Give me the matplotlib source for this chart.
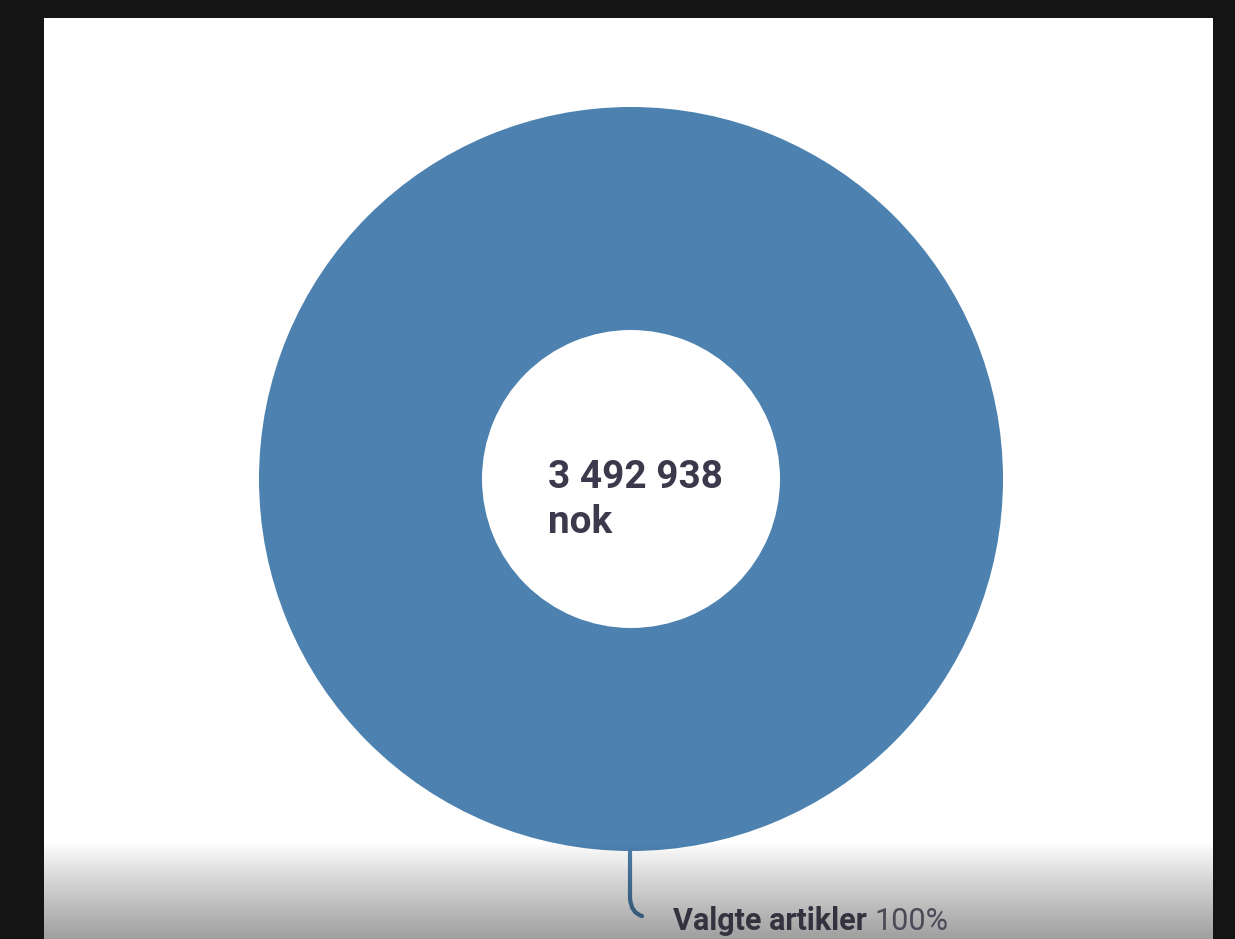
import matplotlib
matplotlib.use("Agg")
import matplotlib.pyplot as plt
import numpy as np
from matplotlib.path import Path
from matplotlib.patches import PathPatch, Rectangle

categories = ["Valgte artikler"]
values = [100]
total_label = ["3 492 938", "nok"]
pct_labels = ["100%"]

W, H = 1235, 939
fig = plt.figure(figsize=(W / 100, H / 100), dpi=100, facecolor="#141414")

# panel axes in pixel coordinates
x0, x1, y0, y1 = 44, 1213, 18, 939
ax = fig.add_axes([x0 / W, 0, (x1 - x0) / W, (y1 - y0) / H])

cx, cy, R, r = 631, 479, 372, 149
ax.pie(values, radius=R, center=(cx, cy), colors=["#4d82b0"], startangle=90,
       counterclock=False, wedgeprops=dict(width=R - r, linewidth=0))
ax.add_patch(Rectangle((x0, y0), x1 - x0, y1 - y0, facecolor="white",
                       edgecolor="none", zorder=0))
ax.set_xlim(x0, x1)
ax.set_ylim(y1, y0)
ax.set_aspect("auto")
ax.set_xticks([]); ax.set_yticks([])

# leader line
verts = [(630, 851), (630, 898), (631, 913), (642, 916)]
codes = [Path.MOVETO, Path.LINETO, Path.CURVE3, Path.CURVE3]
ax.add_patch(PathPatch(Path(verts, codes), fill=False, edgecolor="#4d7fab",
                       linewidth=3.0, capstyle="round", zorder=3))

# bottom gradient shading
g0 = 842
grad = np.linspace(0, 1, 200) ** 0.9
rgba = np.zeros((200, 1, 4))
rgba[..., 3] = (grad * 0.38)[:, None]
ax.imshow(rgba, extent=(x0, x1, y1, g0), aspect="auto", zorder=4,
          interpolation="bilinear")
ax.set_xlim(x0, x1)
ax.set_ylim(y1, y0)

# center text
ax.text(548, 488, total_label[0], fontsize=27.9, fontweight="bold", family="Roboto",
        color="#3a3a4c", ha="left", va="baseline", zorder=5)
ax.text(548, 533, total_label[1], fontsize=27.9, fontweight="bold", family="Roboto",
        color="#3a3a4c", ha="left", va="baseline", zorder=5)

# label
t = ax.text(673, 930, categories[0], fontsize=22, fontweight="bold", family="Roboto",
            color="#33333f", ha="left", va="baseline", zorder=5)
fig.canvas.draw()
bb = t.get_window_extent()
inv = ax.transData.inverted()
xend = inv.transform((bb.x1, bb.y0))[0]
ax.text(xend + 8, 930, pct_labels[0], fontsize=22, family="Roboto",
        color="#4a4a58", ha="left", va="baseline", zorder=5)

fig.savefig("out.png", dpi=100, facecolor=fig.get_facecolor())
